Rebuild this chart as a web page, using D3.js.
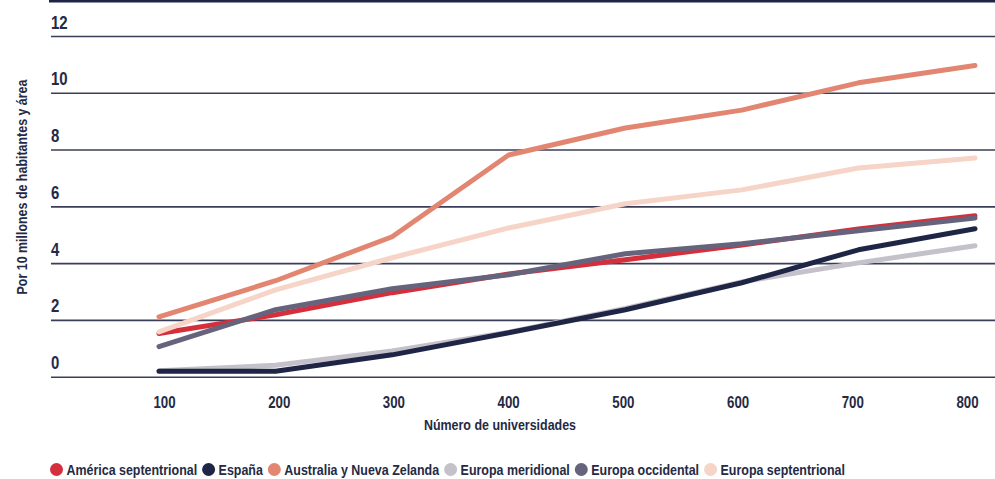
<!DOCTYPE html>
<html>
<head>
<meta charset="utf-8">
<script src="https://cdn.jsdelivr.net/npm/d3@7"></script>
<style>
  html, body { margin: 0; padding: 0; background: #fff; }
  svg { display: block; }
  text { font-family: "Liberation Sans", Arial, sans-serif; font-weight: bold; fill: #252a44; }
</style>
</head>
<body>
<div id="chart"></div>
<script>
// datos
const universidades = [100, 200, 300, 400, 500, 600, 700, 800];
const yTicks = [0, 2, 4, 6, 8, 10, 12];

const americaSeptentrional = [1.52, 2.18, 2.96, 3.62, 4.12, 4.64, 5.2, 5.67];
const espana = [0.19, 0.19, 0.77, 1.55, 2.36, 3.31, 4.47, 5.21];
const australiaNZ = [2.11, 3.38, 4.93, 7.81, 8.76, 9.39, 10.35, 10.96];
const europaMeridional = [0.21, 0.4, 0.91, 1.57, 2.4, 3.34, 4.01, 4.61];
const europaOccidental = [1.06, 2.36, 3.1, 3.59, 4.33, 4.68, 5.14, 5.59];
const europaSeptentrional = [1.58, 3.06, 4.19, 5.24, 6.09, 6.58, 7.35, 7.7];

const seriesNames = [
  "América septentrional",
  "España",
  "Australia y Nueva Zelanda",
  "Europa meridional",
  "Europa occidental",
  "Europa septentrional"
];
const seriesValues = [
  americaSeptentrional,
  espana,
  australiaNZ,
  europaMeridional,
  europaOccidental,
  europaSeptentrional
];
const seriesColors = ["#d42f3b", "#1f2545", "#e28672", "#c5c1ca", "#66647c", "#f6d4c7"];
// orden de dibujo (de abajo arriba)
const drawOrder = [3, 1, 0, 4, 5, 2];

const W = 995, H = 479;
const S = 0.83; // estrechar el texto (fuente condensada)
const svg = d3.select("#chart").append("svg").attr("width", W).attr("height", H);

// escalas
const x = d3.scalePoint().domain(universidades).range([159, 975]);
const xLabel = d3.scalePoint().domain(universidades).range([164, 967]);
const y = d3.scaleLinear().domain([0, 12]).range([376.7, 36]);

// línea superior
svg.append("line")
  .attr("x1", 49).attr("x2", W)
  .attr("y1", 1).attr("y2", 1)
  .attr("stroke", "#1f2545").attr("stroke-width", 3);

// rejilla y etiquetas del eje Y
const yAxis = svg.append("g").attr("transform", "translate(51,0)")
  .call(d3.axisRight(y).tickValues(yTicks).tickSize(W - 51).tickFormat(d3.format("d")));
yAxis.select(".domain").remove();
yAxis.selectAll(".tick line").attr("stroke", "#3b3e58").attr("stroke-width", 1.6);
yAxis.selectAll(".tick text")
  .attr("x", 0).attr("y", -8).attr("dy", 0)
  .attr("text-anchor", "start")
  .attr("font-size", 18)
  .attr("transform", `scale(${S},1)`)
  .style("font-family", null);

// eje X
const xAxis = svg.append("g").attr("transform", "translate(0,408)")
  .call(d3.axisBottom(xLabel).tickSize(0).tickPadding(0));
xAxis.select(".domain").remove();
xAxis.selectAll(".tick text")
  .attr("y", 0).attr("dy", 0)
  .attr("font-size", 16)
  .attr("transform", `scale(${S},1)`)
  .style("font-family", null);

// títulos
svg.append("text")
  .attr("transform", `translate(500,430) scale(${S},1)`)
  .attr("text-anchor", "middle")
  .attr("font-size", 15)
  .text("Número de universidades");

svg.append("text")
  .attr("transform", `translate(27,187) rotate(-90) scale(${S},1)`)
  .attr("text-anchor", "middle")
  .attr("font-size", 15)
  .text("Por 10 millones de habitantes y área");

// líneas
const line = d3.line()
  .x((d, i) => x(universidades[i]))
  .y((d) => y(d));

svg.append("g").selectAll("path")
  .data(drawOrder)
  .join("path")
  .attr("d", (k) => line(seriesValues[k]))
  .attr("fill", "none")
  .attr("stroke", (k) => seriesColors[k])
  .attr("stroke-width", 5)
  .attr("stroke-linecap", "round")
  .attr("stroke-linejoin", "round");

// leyenda
const legend = svg.append("g");
let lx = 56.5;
seriesNames.forEach((name, i) => {
  legend.append("circle")
    .attr("cx", lx).attr("cy", 469.5).attr("r", 6.5)
    .attr("fill", seriesColors[i]);
  const t = legend.append("text")
    .attr("transform", `translate(${lx + 10},475) scale(${S},1)`)
    .attr("font-size", 15)
    .text(name);
  const w = t.node().getComputedTextLength() * S;
  lx = lx + 10 + w + 11.5;
});
</script>
</body>
</html>
